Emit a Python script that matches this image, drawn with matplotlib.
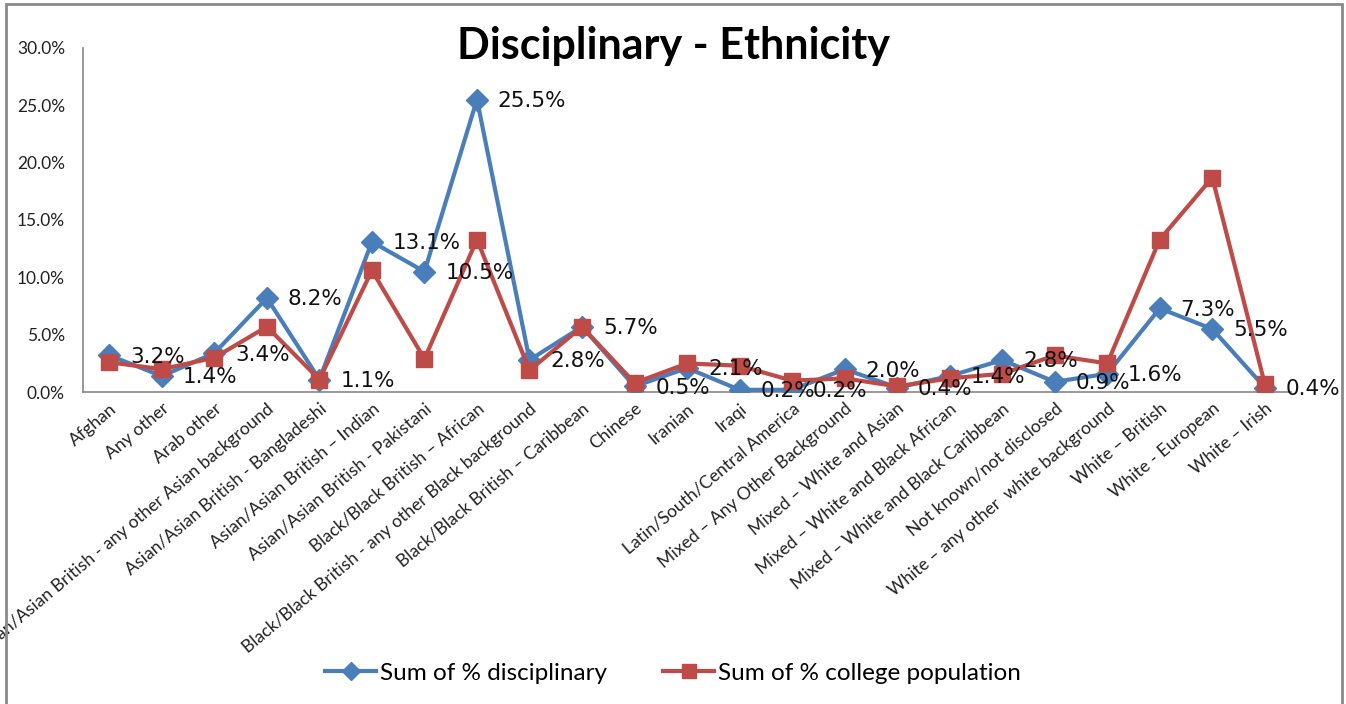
import matplotlib.pyplot as plt
from matplotlib.patches import Rectangle
from matplotlib.lines import Line2D

categories = [
    "Afghan", "Any other", "Arab other",
    "Asian/Asian British - any other Asian background",
    "Asian/Asian British - Bangladeshi",
    "Asian/Asian British \u2013 Indian",
    "Asian/Asian British - Pakistani",
    "Black/Black British \u2013 African",
    "Black/Black British - any other Black background",
    "Black/Black British \u2013 Caribbean",
    "Chinese", "Iranian", "Iraqi",
    "Latin/South/Central America",
    "Mixed \u2013 Any Other Background",
    "Mixed \u2013 White and Asian",
    "Mixed \u2013 White and Black African",
    "Mixed \u2013 White and Black Caribbean",
    "Not known/not disclosed",
    "White \u2013 any other  white background",
    "White \u2013 British", "White - European", "White \u2013 Irish",
]

# % of disciplinary cases (labelled series)
disciplinary = [3.2, 1.4, 3.4, 8.2, 1.1, 13.1, 10.5, 25.5, 2.8, 5.7, 0.5, 2.1,
                0.2, 0.2, 2.0, 0.4, 1.4, 2.8, 0.9, 1.6, 7.3, 5.5, 0.4]
# % of college population
population = [2.6, 2.0, 3.0, 5.7, 1.1, 10.6, 2.9, 13.3, 1.9, 5.7, 0.8, 2.5,
              2.3, 1.0, 1.2, 0.5, 1.2, 1.6, 3.2, 2.5, 13.3, 18.7, 0.7]

blue = "#4A7EBB"
red = "#BE4B48"
body_font = "Lato"

fig = plt.figure(figsize=(13.46, 7.04), dpi=100)
ax = fig.add_axes([0.0617, 0.443, 0.8975, 0.489])

x = list(range(len(categories)))
ax.plot(x, disciplinary, color=blue, lw=3, marker="D", ms=11, zorder=3,
        label="Sum of % disciplinary")
ax.plot(x, population, color=red, lw=3, marker="s", ms=12, zorder=4,
        label="Sum of % college population")

for i, v in enumerate(disciplinary):
    ax.annotate(f"{v:.1f}%", (i, v), xytext=(15, -1), textcoords="offset points",
                ha="left", va="center", fontsize=15.5, color="#111111",
                family="DejaVu Sans", zorder=5)

ax.set_xlim(-0.5, len(categories) - 0.5)
ax.set_ylim(0, 30)
ax.set_yticks([0, 5, 10, 15, 20, 25, 30])
ax.set_yticklabels([f"{t:.1f}%" for t in [0, 5, 10, 15, 20, 25, 30]],
                   family=body_font, fontsize=12.5, color="#222222")
ax.set_xticks(x)
ax.set_xticklabels(categories, rotation=40, ha="right", rotation_mode="anchor",
                   family=body_font, fontsize=12.7, color="#222222")
ax.tick_params(axis="y", length=0, pad=13)
ax.tick_params(axis="x", length=0, pad=6)

for side in ["top", "right"]:
    ax.spines[side].set_visible(False)
for side in ["left", "bottom"]:
    ax.spines[side].set_color("#888888")
    ax.spines[side].set_linewidth(1.2)

fig.text(0.5, 0.934, "Disciplinary - Ethnicity", ha="center", va="center",
         fontsize=31, fontweight="bold", family=body_font)

handles = [
    Line2D([], [], color=blue, lw=3, marker="D", ms=9),
    Line2D([], [], color=red, lw=3, marker="s", ms=10),
]
fig.legend(handles, ["Sum of % disciplinary", "Sum of % college population"],
           loc="center", bbox_to_anchor=(0.5, 0.044), ncol=2, frameon=False,
           prop={"family": body_font, "size": 17.5}, handlelength=2.1,
           handletextpad=0.15, columnspacing=2.3)

fig.patches.append(Rectangle((0.0045, -0.02), 0.9925, 1.014, transform=fig.transFigure,
                             fill=False, edgecolor="#8a8a8a", lw=2))

fig.savefig("out.png", dpi=100)
